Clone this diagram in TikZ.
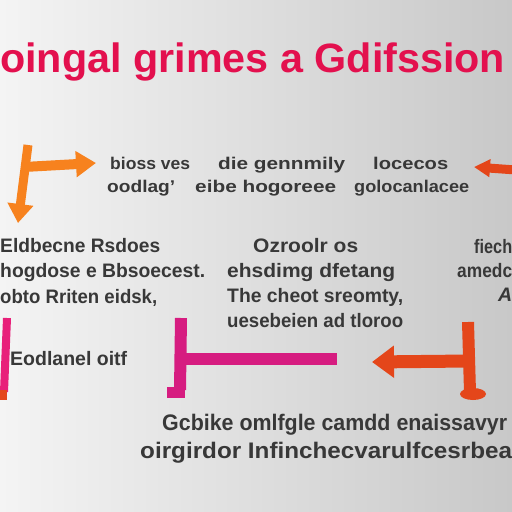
\documentclass[tikz,border=0pt]{standalone}
\usepackage{fontspec}
\setmainfont{Liberation Sans}
\usepackage{graphicx}
\usetikzlibrary{arrows.meta}
\definecolor{bgL}{HTML}{F4F4F4}
\definecolor{bgR}{HTML}{C8C8C8}
\definecolor{titlered}{HTML}{E3104E}
\definecolor{ink}{HTML}{383838}
\definecolor{orangeA}{HTML}{F7821E}
\definecolor{redA}{HTML}{E4461A}
\definecolor{pinkA}{HTML}{D61C80}
\definecolor{pinkB}{HTML}{E8207A}
\newcommand{\fitw}[2]{\resizebox{#1pt}{\height}{#2}}
\tikzset{
  txt/.style={anchor=base west, inner sep=0pt, text=ink, font=\bfseries\fontsize{19.5}{20}\selectfont},
  txtS/.style={txt, font=\bfseries\fontsize{17}{17}\selectfont},
  txtL/.style={txt, font=\bfseries\fontsize{22.5}{23}\selectfont},
  ttl/.style={anchor=base west, inner sep=0pt, text=titlered, font=\bfseries\fontsize{41}{41}\selectfont},
  bar/.style={line width=#1, line cap=butt},
}
\begin{document}
\begin{tikzpicture}[x=1pt,y=-1pt]
\useasboundingbox (0,0) rectangle (512,512);
\shade[left color=bgL, right color=bgR] (0,0) rectangle (512,512);
% title
\node[ttl] (title) at (0,72) {\fitw{505}{oingal grimes a Gdifssion}};
% top row text
\node[txtS] (t1a) at (110,169) {\fitw{80}{bioss ves}};
\node[txtS] (t1b) at (218,169) {\fitw{127}{die gennmily}};
\node[txtS] (t1c) at (373,169) {\fitw{75}{locecos}};
\node[txtS] (t2a) at (107,192) {\fitw{68}{oodlag'}};
\node[txtS] (t2b) at (195,192) {\fitw{141}{eibe hogoreee}};
\node[txtS] (t2c) at (354,192) {\fitw{115}{golocanlacee}};
% middle left
\node[txt] (l1) at (0,252) {\fitw{160}{Eldbecne Rsdoes}};
\node[txt] (l2) at (0,277) {\fitw{205}{hogdose e Bbsoecest.}};
\node[txt] (l3) at (0,303) {\fitw{157}{obto Rriten eidsk,}};
% middle centre
\node[txt] (c1) at (253,252) {\fitw{105}{Ozroolr os}};
\node[txt] (c2) at (227,277) {\fitw{168}{ehsdimg dfetang}};
\node[txt] (c3) at (227,302) {\fitw{176}{The cheot sreomty,}};
\node[txt] (c4) at (227,327) {\fitw{176}{uesebeien ad tloroo}};
% middle right
\node[txt] (r1) at (474,253) {\fitw{38}{fiech}};
\node[txt] (r2) at (457,277) {\fitw{55}{amedc}};
\node[txt] (r3) at (498,301) {\itshape A};
% lower left
\node[txt] (e1) at (10,365) {\fitw{117}{Eodlanel oitf}};
% bottom
\node[txtL] (b1) at (162,430) {\fitw{345}{Gcbike omlfgle camdd enaissavyr}};
\node[txtL] (b2) at (140,458) {\fitw{372}{oirgirdor Infinchecvarulfcesrbea}};
% top-left orange arrows
\draw[orangeA, bar=9pt, -{Triangle[length=19pt,width=25pt]}] (28,145) -- (18,223);
\draw[orangeA, bar=10pt, -{Triangle[length=20pt,width=25pt]}] (24,167) -- (96,163);
% top-right red arrow
\draw[redA, bar=9pt, -{Triangle[length=16pt,width=17pt]}] (516,170) -- (474,167);
% left pink bar
\draw[pinkB, bar=8pt] (7,318) -- (4,392);
\fill[redA] (0,390) rectangle (7,400);
% centre magenta H
\draw[pinkA, bar=12pt] (181,318) -- (180,390);
\fill[pinkA] (167,387) rectangle (185,398);
\draw[pinkA, bar=12pt] (181,359) -- (337,359);
% right red arrow
\draw[redA, bar=12pt] (468,322) -- (470,392);
\fill[redA] (473,394) ellipse [x radius=13pt, y radius=6pt];
\draw[redA, bar=13pt, -{Triangle[length=22pt,width=31pt]}] (469,361) -- (372,362);
\end{tikzpicture}
\end{document}
